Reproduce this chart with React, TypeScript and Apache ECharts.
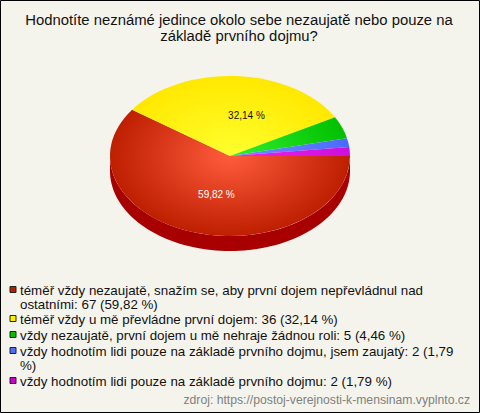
import React, { useEffect, useRef } from "react";
import * as echarts from "echarts";

const titleLines = ["Hodnotíte neznámé jedince okolo sebe nezaujatě nebo pouze na", "základě prvního dojmu?"];
const categories = [
  "téměř vždy nezaujatě, snažím se, aby první dojem nepřevládnul nad ostatními",
  "téměř vždy u mě převládne první dojem",
  "vždy nezaujatě, první dojem u mě nehraje žádnou roli",
  "vždy hodnotím lidi pouze na základě prvního dojmu, jsem zaujatý",
  "vždy hodnotím lidi pouze na základě prvního dojmu",
];
const values = [67, 36, 5, 2, 2];
const percents = ["59,82 %", "32,14 %", "4,46 %", "1,79 %", "1,79 %"];
const legendLines = [
  ["téměř vždy nezaujatě, snažím se, aby první dojem nepřevládnul nad", "ostatními: 67 (59,82 %)"],
  ["téměř vždy u mě převládne první dojem: 36 (32,14 %)"],
  ["vždy nezaujatě, první dojem u mě nehraje žádnou roli: 5 (4,46 %)"],
  ["vždy hodnotím lidi pouze na základě prvního dojmu, jsem zaujatý: 2 (1,79", "%)"],
  ["vždy hodnotím lidi pouze na základě prvního dojmu: 2 (1,79 %)"],
];
const legendY = [290, 319, 335, 351, 381];
const sourceText = "zdroj: https://postoj-verejnosti-k-mensinam.vyplnto.cz";
const swatch = ["#b81e00", "#ffee00", "#00c000", "#4d6dff", "#cc00cc"];
const innerCol = ["#ff5c3c", "#ffff2e", "#30f030", "#6f8fff", "#ee22ee"];
const outerCol = ["#bd1f00", "#ffe800", "#00c000", "#4a6cff", "#cc10dd"];
const sideCol = ["#a80000", "#c8b800", "#009000", "#3040c0", "#900090"];

const CX = 230, CY = 156, RX = 120, RY = 80, DEPTH = 15;
const FONT = "Liberation Sans";

export default function App() {
  const ref = useRef<HTMLDivElement>(null);
  useEffect(() => {
    const chart = echarts.init(ref.current!, undefined, { renderer: "svg" });
    const total = values.reduce((a, b) => a + b, 0);
    const starts: number[] = [];
    let acc = 0;
    values.forEach((v) => { starts.push(acc); acc += v; });
    const labelDx = [5, 13];

    const graphics: any[] = [
      { type: "rect", silent: true, z: -1, shape: { x: 0.5, y: 0.5, width: 479, height: 412 }, style: { fill: "#f5f4ec", stroke: "#000", lineWidth: 1 } },
    ];
    titleLines.forEach((t, i) => graphics.push({
      type: "text", x: 239, y: 20 + i * 16,
      style: { text: t, fill: "#111", font: `14.85px "${FONT}"`, textAlign: "center", textVerticalAlign: "middle" },
    }));
    legendLines.forEach((lines, i) => {
      graphics.push({
        type: "rect", shape: { x: 10, y: legendY[i] - 3.5, width: 6, height: 6 },
        style: { fill: swatch[i], stroke: "#222", lineWidth: 1 },
      });
      lines.forEach((t, j) => graphics.push({
        type: "text", x: 20, y: legendY[i] + j * 14.7,
        style: { text: t, fill: "#111", font: `13.33px "${FONT}"`, textAlign: "left", textVerticalAlign: "middle" },
      }));
    });
    graphics.push({
      type: "text", x: 470, y: 400,
      style: { text: sourceText, fill: "#808080", font: `12.2px "${FONT}"`, textAlign: "right", textVerticalAlign: "middle" },
    });

    const renderItem = (_p: any, api: any) => {
      const i = api.value(0);
      const v = api.value(1);
      const start = (api.value(2) / total) * Math.PI * 2;
      const end = start + (v / total) * Math.PI * 2;
      const children: any[] = [];
      // visible front wall: the part of the arc in the lower half of the ellipse
      const a0 = Math.max(start, 0), a1 = Math.min(end, Math.PI);
      if (a1 > a0) {
        const top: number[][] = [], bottom: number[][] = [];
        for (let k = 0; k <= 80; k++) {
          const a = a0 + ((a1 - a0) * k) / 80;
          const x = CX + RX * Math.cos(a), y = CY + RY * Math.sin(a);
          top.push([x, y]);
          bottom.unshift([x, y + DEPTH]);
        }
        children.push({ type: "polygon", shape: { points: top.concat(bottom) }, style: { fill: sideCol[i] } });
      }
      children.push({
        type: "sector", x: CX, y: CY, scaleY: RY / RX,
        shape: { cx: 0, cy: 0, r0: 0, r: RX, startAngle: start, endAngle: end, clockwise: true },
        style: {
          fill: {
            type: "radial", x: 0, y: 0, r: RX, global: true,
            colorStops: [{ offset: 0, color: innerCol[i] }, { offset: 1, color: outerCol[i] }],
          },
        },
      });
      return { type: "group", children };
    };

    const labelItem = (_p: any, api: any) => {
      const i = api.value(0);
      const mid = ((api.value(2) + api.value(1) / 2) / total) * Math.PI * 2;
      return {
        type: "text", z2: 10,
        x: CX + RX * 0.51 * Math.cos(mid) + labelDx[i],
        y: CY + RY * 0.51 * Math.sin(mid),
        style: {
          text: percents[i], font: `10px "${FONT}"`, textAlign: "center", textVerticalAlign: "middle",
          fill: i === 0 ? "#ffffff" : "#111111",
        },
      };
    };

    const rows = values.map((v, i) => [i, v, starts[i], categories[i]]);
    chart.setOption({
      animation: false,
      graphic: { elements: graphics },
      series: [
        { type: "custom", coordinateSystem: "none", renderItem, data: rows, silent: true, z: 2 },
        { type: "custom", coordinateSystem: "none", renderItem: labelItem, data: rows.slice(0, 2), silent: true, z: 3 },
      ],
    });
    return () => chart.dispose();
  }, []);
  return <div ref={ref} style={{ position: "absolute", left: 0, top: 0, width: 480, height: 413 }} />;
}
